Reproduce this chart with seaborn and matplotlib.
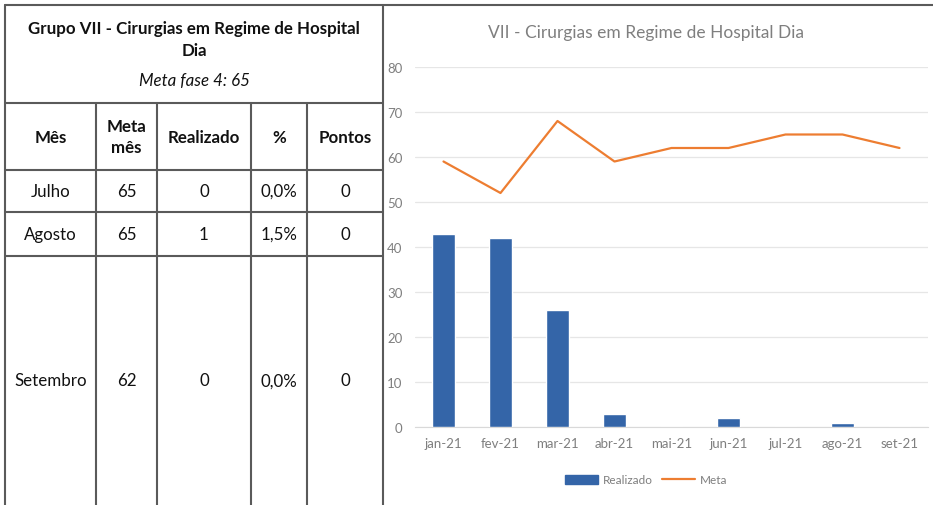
import seaborn as sns
import matplotlib.pyplot as plt
from matplotlib.lines import Line2D

# data
months = ['jan-21', 'fev-21', 'mar-21', 'abr-21', 'mai-21', 'jun-21', 'jul-21', 'ago-21', 'set-21']
realizado = [43, 42, 26, 3, 0, 2, 0, 1, 0]
meta = [59, 52, 68, 59, 62, 62, 65, 65, 62]

table_header = ['Mês', 'Meta\nmês', 'Realizado', '%', 'Pontos']
table_rows = [
    ['Julho', '65', '0', '0,0%', '0'],
    ['Agosto', '65', '1', '1,5%', '0'],
    ['Setembro', '62', '0', '0,0%', '0'],
]

sns.set_style('white')
plt.rcParams['font.family'] = ['Lato', 'DejaVu Sans']

W, H = 933, 506
fig = plt.figure(figsize=(W / 100, H / 100), dpi=100)

# background axes in pixel coordinates for the table
bg = fig.add_axes([0, 0, 1, 1])
bg.set_xlim(0, W)
bg.set_ylim(H, 0)
bg.axis('off')

lc = '#5a5a5a'
lw = 1.5
col_x = [5, 96, 157, 251, 307, 383]
row_y = [104, 171, 213, 257, H]

# outer / grid lines
bg.plot([5, W], [6, 6], color=lc, lw=lw)
bg.plot([5, 5], [6, H], color=lc, lw=lw)
bg.plot([383, 383], [6, H], color=lc, lw=lw)
for y in row_y[:-1]:
    bg.plot([5, 383], [y, y], color=lc, lw=lw)
for x in col_x[1:-1]:
    bg.plot([x, x], [row_y[0], H], color=lc, lw=lw)

tc = '#111111'
fs = 12.2
bg.text(194, 29, 'Grupo VII - Cirurgias em Regime de Hospital', ha='center', va='center',
        fontsize=fs, fontweight='bold', color=tc)
bg.text(194, 51, 'Dia', ha='center', va='center', fontsize=fs, fontweight='bold', color=tc)
bg.text(194, 81, 'Meta fase 4: 65', ha='center', va='center', fontsize=fs,
        fontstyle='italic', color=tc)

centers = [(col_x[i] + col_x[i + 1]) / 2 for i in range(5)]
hy = (row_y[0] + row_y[1]) / 2
for cx, lab in zip(centers, table_header):
    bg.text(cx, hy, lab, ha='center', va='center', fontsize=fs, fontweight='bold',
            color=tc, linespacing=1.45)
for r, row in enumerate(table_rows):
    ry = (row_y[r + 1] + row_y[r + 2]) / 2
    for cx, val in zip(centers, row):
        bg.text(cx, ry, val, ha='center', va='center', fontsize=fs, color=tc)

# chart
gx0, gx1, gy0, gy1 = 415, 928, 68, 428
ax = fig.add_axes([gx0 / W, 1 - gy1 / H, (gx1 - gx0) / W, (gy1 - gy0) / H])
sns.barplot(x=months, y=realizado, color='#3465A8', width=0.39, saturation=1,
            ax=ax, label='Realizado', zorder=3)
sns.lineplot(x=months, y=meta, color='#ED7D31', lw=1.6, sort=False, ax=ax,
             label='Meta', zorder=4)

ax.set_ylim(0, 80)
ax.set_xlim(-0.5, len(months) - 0.5)
ax.set_yticks(range(0, 81, 10))
ax.yaxis.grid(True, color='#E6E6E6', lw=0.9)
ax.set_axisbelow(True)
for s in ['top', 'right', 'left']:
    ax.spines[s].set_visible(False)
ax.spines['bottom'].set_color('#D9D9D9')
ax.tick_params(axis='y', length=0, labelsize=9.5, labelcolor='#7F7F7F', pad=9)
ax.tick_params(axis='x', length=0, labelsize=9.5, labelcolor='#7F7F7F', pad=7)
ax.set_xticks([i + 0.5 for i in range(-1, len(months))], minor=True)
ax.tick_params(axis='x', which='minor', length=5, color='#D9D9D9', direction='out')

ax.set_xlabel('')
ax.set_ylabel('')
ax.get_legend().remove()

fig.text(646 / W, 1 - 33 / H, 'VII - Cirurgias em Regime de Hospital Dia', ha='center',
         va='center', fontsize=12.5, color='#7F7F7F')

handles = [plt.Rectangle((0, 0), 1, 1, color='#3465A8'),
           Line2D([0], [0], color='#ED7D31', lw=1.6)]
fig.legend(handles, ['Realizado', 'Meta'], loc='center', bbox_to_anchor=(646 / W, 1 - 481 / H),
           ncol=2, frameon=False, fontsize=8.5, labelcolor='#7F7F7F', handlelength=2.8,
           handleheight=0.8, columnspacing=0.8, handletextpad=0.4)

fig.savefig('out.png', dpi=100)
